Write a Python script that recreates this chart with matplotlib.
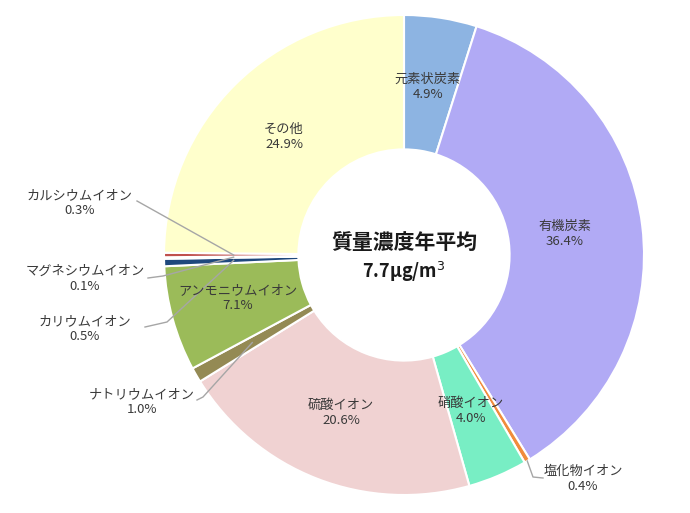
import matplotlib
matplotlib.use('Agg')
import matplotlib.pyplot as plt
import numpy as np

plt.rcParams['font.family'] = ['Noto Sans CJK JP', 'DejaVu Sans']

# 成分と割合 (%)
names = ['元素状炭素', '有機炭素', '塩化物イオン', '硝酸イオン', '硫酸イオン',
         'ナトリウムイオン', 'アンモニウムイオン', 'カリウムイオン',
         'マグネシウムイオン', 'カルシウムイオン', 'その他']
values = [4.9, 36.4, 0.4, 4.0, 20.6, 1.0, 7.1, 0.5, 0.1, 0.3, 24.9]
colors = ['#8DB4E2', '#B1AAF5', '#F08C3C', '#78EEC4', '#F0D2D2',
          '#948A54', '#9BBB59', '#1F497D', '#DCE6F2', '#C0504D', '#FFFFCC']
center_title = '質量濃度年平均'
center_value = '7.7μg/m$^3$'

# ピクセル座標 -> データ座標
CX, CY, R = 404, 255, 240
W, H = 690, 513


def px(x, y):
    return (x - CX) / R, (CY - y) / R


fig = plt.figure(figsize=(6.9, 5.13), dpi=100)
ax = fig.add_axes([0, 0, 1, 1])

wedges, _ = ax.pie(values, colors=colors, startangle=90, counterclock=False,
                   radius=1, wedgeprops=dict(width=0.56, edgecolor='white', linewidth=1.5))
ax.set_aspect('auto')
ax.set_xlim(-CX / R, (W - CX) / R)
ax.set_ylim(-(H - CY) / R, CY / R)
ax.axis('off')

txt = '#3A3A3A'
fs = 9.5

# 内側ラベル
inside = {0: (428, 87), 1: (565, 234), 3: (471, 411), 4: (341, 413), 6: (238, 298), 10: (284, 137)}
for i, (x, y) in inside.items():
    ax.text(*px(x, y), f'{names[i]}\n{values[i]:.1f}%', ha='center', va='center',
            fontsize=fs, color=txt, linespacing=1.25)

# 外側ラベルと引き出し線
total = sum(values)
cum = np.cumsum([0] + values[:-1])


def mid_point(i, r):
    ang = np.deg2rad(90 - (cum[i] + values[i] / 2) / total * 360)
    return r * np.cos(ang), r * np.sin(ang)


outside = {
    9: ((80, 203), [(137, 201)], 0.71),
    8: ((85, 279), [(148, 278), (163, 276)], 0.71),
    7: ((85, 329), [(145, 327), (167, 322)], 0.71),
    5: ((142, 402), [(197, 400), (203, 397)], 0.73),
    2: ((583, 479), [(543, 478), (533, 477)], 1.0),
}
for i, ((lx, ly), pts, r) in outside.items():
    ax.text(*px(lx, ly), f'{names[i]}\n{values[i]:.1f}%', ha='center', va='center',
            fontsize=fs, color=txt, linespacing=1.25)
    xs = [px(*p)[0] for p in pts]
    ys = [px(*p)[1] for p in pts]
    ex, ey = mid_point(i, r)
    ax.plot(xs + [ex], ys + [ey], color='#A6A6A6', lw=1.0)

ax.text(*px(404, 242), center_title, ha='center', va='center', fontsize=15,
        fontweight='bold', color='#1A1A1A')
ax.text(*px(404, 272), center_value, ha='center', va='center', fontsize=13,
        fontweight='bold', color='#1A1A1A')

fig.savefig('out.png', dpi=100)
